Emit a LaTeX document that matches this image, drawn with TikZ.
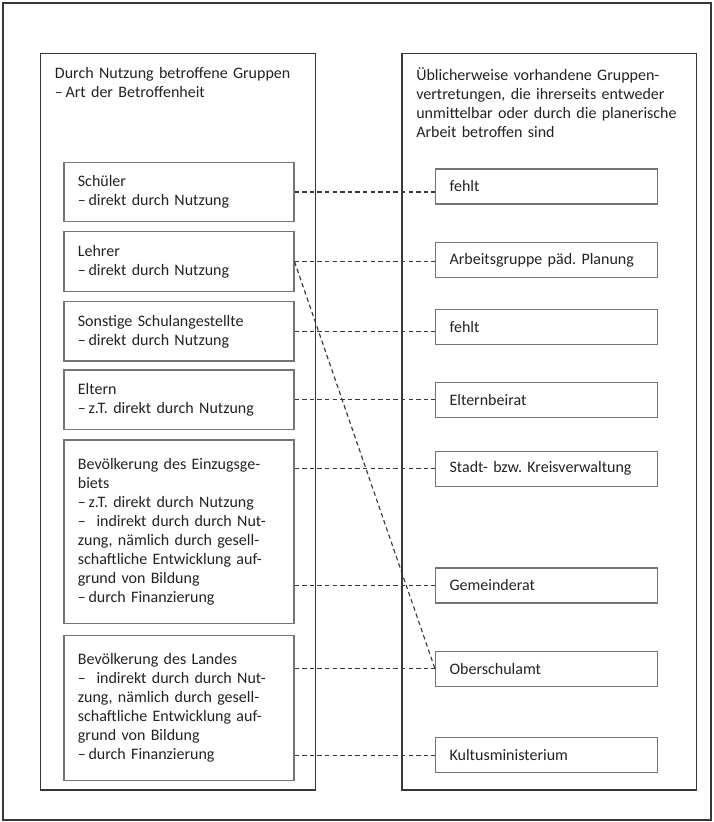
\documentclass[tikz,border=0pt]{standalone}
\usepackage{fontspec}
\setmainfont{Carlito}
\usetikzlibrary{calc}
\frenchspacing

\definecolor{framegray}{HTML}{383838}
\definecolor{boxgray}{HTML}{747474}
\definecolor{textgray}{HTML}{222222}

\tikzset{
    colframe/.style={draw=framegray, line width=1pt},
    header/.style={anchor=north west, align=left, inner xsep=10.5pt, inner ysep=10.5pt, text=textgray},
    groupbox/.style={draw=boxgray, line width=0.9pt, anchor=north west, align=left,
        text width=151.5pt, inner xsep=10.5pt, inner ysep=0pt, minimum height=#1, text=textgray},
    groupbox/.default=44.6pt,
    repbox/.style={draw=boxgray, line width=0.9pt, anchor=north west, align=left,
        text width=145.5pt, inner xsep=10.5pt, inner ysep=0pt, minimum height=26.25pt, text=textgray},
    link/.style={draw=framegray, line width=0.85pt, dash pattern=on 3.3pt off 2.4pt}
}

\begin{document}
\begin{tikzpicture}[x=0.75pt, y=-0.75pt, font=\fontsize{12}{14.25}\selectfont]
    \useasboundingbox (0,0) rectangle (714,822);
    \draw[framegray, line width=0.9pt] (3,3) rectangle (711,820);

    % Right column: representatives
    \draw[colframe] (402,53.3) rectangle (696.7,790);
    \node[repbox] (fehlA) at (435,168.3) {fehlt};
    \node[repbox] (arbeit) at (435,242) {Arbeitsgruppe päd. Planung};
    \node[repbox] (fehlB) at (435,309) {fehlt};
    \node[repbox] (beirat) at (435,381.7) {Elternbeirat};
    \node[repbox] (stadt) at (435,450.7) {Stadt- bzw. Kreisverwaltung};
    \node[repbox] (rat) at (435,567.3) {Gemeinderat};
    \node[repbox] (ober) at (435,650.7) {Oberschulamt};
    \node[repbox] (kultus) at (435,737) {Kultusministerium};
    \node[header, text width=200pt] (headR) at (402,53.3)
        {Üblicherweise vorhandene Gruppen-\\vertretungen, die ihrerseits entweder\\unmittelbar oder durch die planerische\\Arbeit betroffen sind};

    % Left column: affected groups
    \draw[colframe] (40.7,53.3) rectangle (315.7,790);
    \node[header, text width=185pt] (headL) at (40.7,53.3)
        {Durch Nutzung betroffene Gruppen\\--\,Art der Betroffenheit};
    \node[groupbox] (schueler) at (63.3,161.7) {Schüler\\--\,direkt durch Nutzung};
    \node[groupbox=45pt] (lehrer) at (63.3,231) {Lehrer\\--\,direkt durch Nutzung};
    \node[groupbox] (sonstige) at (63.3,301) {Sonstige Schulangestellte\\--\,direkt durch Nutzung};
    \node[groupbox] (eltern) at (63.3,369.3) {Eltern\\--\,z.T. direkt durch Nutzung};
    \node[groupbox=137.5pt] (einzug) at (63.3,439.3) {Bevölkerung des Einzugsge-\\biets\\--\,z.T. direkt durch Nutzung\\-- \ indirekt durch durch Nut-\\zung, nämlich durch gesell-\\schaftliche Entwicklung auf-\\grund von Bildung\\--\,durch Finanzierung};
    \node[groupbox=108.75pt] (landes) at (63.3,635) {Bevölkerung des Landes\\-- \ indirekt durch durch Nut-\\zung, nämlich durch gesell-\\schaftliche Entwicklung auf-\\grund von Bildung\\--\,durch Finanzierung};

    % Links
    \foreach \a/\b in {schueler/fehlA, lehrer/arbeit, sonstige/fehlB, eltern/beirat} {
        \draw[link] (\a.east) -- (\a.east -| \b.west);
    }
    \foreach \a/\b in {einzug/stadt, einzug/rat, landes/ober, landes/kultus} {
        \draw[link] (\b.west -| \a.east) -- (\b.west);
    }
    \draw[link] (lehrer.east) -- (ober.west);
\end{tikzpicture}
\end{document}
